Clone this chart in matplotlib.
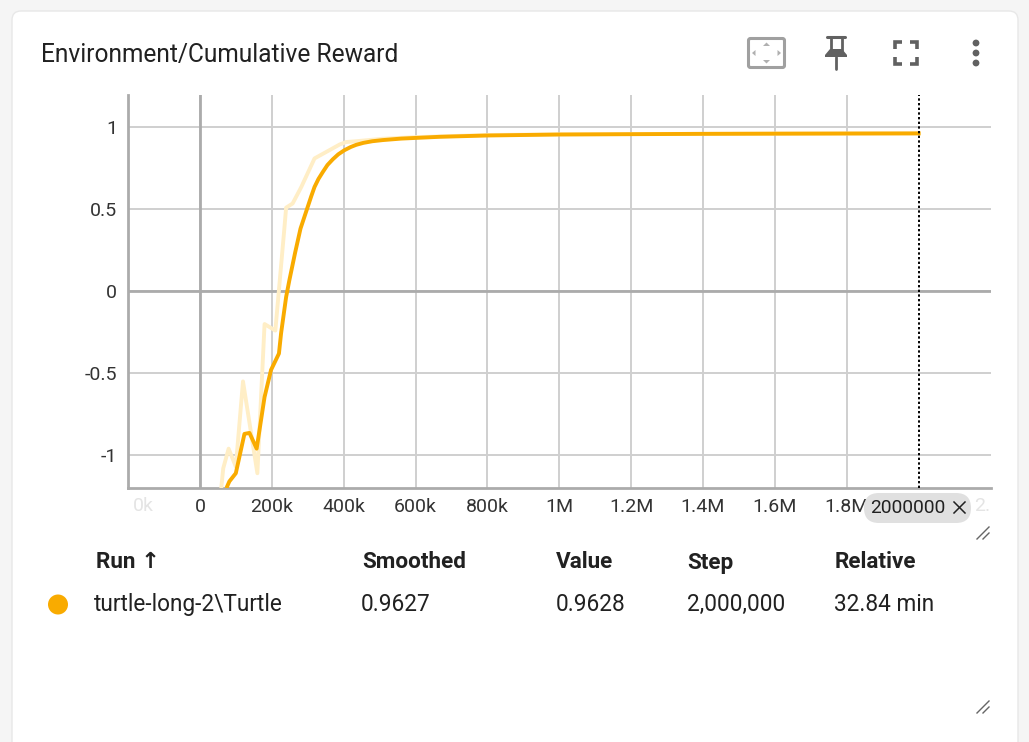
# TensorBoard scalar card: Environment/Cumulative Reward
import matplotlib
matplotlib.use('Agg')
import matplotlib.pyplot as plt
from matplotlib.patches import FancyBboxPatch, Circle, Polygon

plt.rcParams['font.family'] = ['Roboto', 'DejaVu Sans']

raw_steps = [60e3, 65e3, 80e3, 100e3, 120e3, 160e3, 180e3, 210e3, 235e3, 240e3, 258e3, 282e3,
             319e3, 389e3, 407e3, 435e3, 508e3, 600e3, 800e3, 1e6, 1.2e6, 1.4e6, 1.6e6, 1.8e6, 2e6]
raw_values = [-1.19, -1.08, -0.96, -1.07, -0.55, -1.11, -0.2, -0.24, 0.38, 0.51, 0.535, 0.635,
              0.81, 0.895, 0.91, 0.915, 0.93, 0.94, 0.953, 0.957, 0.959, 0.96, 0.962, 0.962, 0.9628]
smooth_steps = [76e3, 82e3, 100e3, 115e3, 124e3, 138e3, 158e3, 180e3, 198e3, 220e3, 226e3, 240e3,
                249e3, 265e3, 280e3, 300e3, 310e3, 319e3, 330e3, 342e3, 355e3, 370e3, 385e3, 402e3,
                420e3, 435e3, 455e3, 480e3, 509e3, 560e3, 667e3, 800e3, 1e6, 1.4e6, 1.8e6, 2e6]
smooth_values = [-1.19, -1.16, -1.11, -0.96, -0.87, -0.864, -0.96, -0.645, -0.48, -0.38, -0.256,
                 -0.035, 0.067, 0.235, 0.382, 0.514, 0.58, 0.636, 0.685, 0.727, 0.77, 0.805, 0.835,
                 0.86, 0.88, 0.893, 0.905, 0.915, 0.922, 0.931, 0.942, 0.95, 0.956, 0.96, 0.962, 0.9627]
x_ticks = [0, 200e3, 400e3, 600e3, 800e3, 1e6, 1.2e6, 1.4e6, 1.6e6, 1.8e6]
x_labels = ['0', '200k', '400k', '600k', '800k', '1M', '1.2M', '1.4M', '1.6M', '1.8M']
y_ticks = [-1, -0.5, 0, 0.5, 1]
y_labels = ['-1', '-0.5', '0', '0.5', '1']
table_headers = ['Run ↑', 'Smoothed', 'Value', 'Step', 'Relative']
table_row = ['turtle-long-2\\Turtle', '0.9627', '0.9628', '2,000,000', '32.84 min']

W, H = 1029, 742
ORANGE = '#f9ab00'
TEXT = '#212121'
ICON = '#616161'

fig = plt.figure(figsize=(W / 100, H / 100), dpi=100)
fig.patch.set_facecolor('#f5f5f5')

# full figure axes in pixels, for the card and everything around the chart
bg = fig.add_axes([0, 0, 1, 1])
bg.set_xlim(0, W)
bg.set_ylim(H, 0)
bg.axis('off')
bg.add_patch(FancyBboxPatch((12, 11), 1006, 760, boxstyle='round,pad=0,rounding_size=9',
                            facecolor='white', edgecolor='#e8e8e8', linewidth=1))
bg.text(41, 55, 'Environment/Cumulative Reward', fontsize=17.65, color=TEXT, va='center')

# fit-domain icon
bg.add_patch(FancyBboxPatch((748.5, 38.5), 36, 29, boxstyle='round,pad=0,rounding_size=2',
                            facecolor='white', edgecolor='#a0a0a0', linewidth=2.2))
for pts in ([(766.5, 42.5), (763, 46), (770, 46)], [(766.5, 63.5), (763, 60), (770, 60)],
            [(752, 53), (755.5, 50), (755.5, 56)], [(781, 53), (777.5, 50), (777.5, 56)]):
    bg.add_patch(Polygon(pts, facecolor='#b0b0b0', edgecolor='none'))

# pin icon
bg.plot([827, 845], [36.5, 36.5], color=ICON, lw=2.2, solid_capstyle='round')
bg.plot([830.5, 830.5], [37, 50], color=ICON, lw=2)
bg.plot([841.5, 841.5], [37, 50], color=ICON, lw=2)
bg.add_patch(Polygon([(830, 49), (842, 49), (847, 55), (847, 57), (825, 57), (825, 55)],
                     facecolor=ICON, edgecolor='none'))
bg.plot([836, 836], [57, 69], color=ICON, lw=2, solid_capstyle='round')

# fullscreen icon
for cx, cy, dx, dy in [(895, 42, 1, 1), (917, 42, -1, 1), (895, 64, 1, -1), (917, 64, -1, -1)]:
    bg.plot([cx, cx, cx + 7 * dx], [cy + 7 * dy, cy, cy], color=ICON, lw=2.6,
            solid_joinstyle='miter', solid_capstyle='butt')

# more menu
for cy in (43, 53, 63):
    bg.add_patch(Circle((976, cy), 3.4, facecolor=ICON, edgecolor='none'))

# chart
ax = fig.add_axes([128 / W, 1 - 488 / H, (990.5 - 128) / W, (488 - 94.5) / H])
ax.set_xlim(-200e3, 2.2e6)
ax.set_ylim(-1.2, 1.2)
ax.set_facecolor('none')
ax.set_xticks(x_ticks)
ax.set_xticklabels(x_labels)
ax.set_yticks(y_ticks)
ax.set_yticklabels(y_labels)
ax.tick_params(length=0, labelsize=14, labelcolor='#333333')
ax.tick_params(axis='x', pad=7)
ax.tick_params(axis='y', pad=8)
ax.grid(True, color='#cfcfcf', linewidth=1.4)
ax.set_axisbelow(True)
ax.axhline(0, color='#ababab', linewidth=2, zorder=1)
ax.axvline(0, color='#ababab', linewidth=2, zorder=1)
for side in ('top', 'right'):
    ax.spines[side].set_visible(False)
for side in ('left', 'bottom'):
    ax.spines[side].set_color('#ababab')
    ax.spines[side].set_linewidth(2)
ax.plot(raw_steps, raw_values, color='#ffeec6', linewidth=2.8, zorder=3)
ax.plot(smooth_steps, smooth_values, color=ORANGE, linewidth=2.8, zorder=4)
ax.axvline(2e6, color='black', linewidth=1.4, linestyle=(0, (1.2, 1.2)), zorder=5)

# faded, cut off labels at both ends of the x axis
bg.text(143, 506, '0k', fontsize=14, color='#e4e4e4', ha='center', va='center')
bg.text(982, 506, '2.', fontsize=14, color='#e4e4e4', ha='center', va='center')

# selected step chip, over the tick labels
chip = fig.add_axes([0, 0, 1, 1], zorder=5)
chip.set_xlim(0, W)
chip.set_ylim(H, 0)
chip.axis('off')
chip.add_patch(FancyBboxPatch((864, 493), 107, 30, boxstyle='round,pad=0,rounding_size=15',
                              facecolor='#e0e0e0', edgecolor='none'))
chip.text(870.5, 508, '2000000', fontsize=13.8, color=TEXT, va='center')
chip.plot([954, 965], [502, 513], color=TEXT, lw=1.1)
chip.plot([954, 965], [513, 502], color=TEXT, lw=1.1)

# table
header_x = [96, 362, 556, 687, 835]
row_x = [94, 361, 556, 687, 834]
for x, label in zip(header_x, table_headers):
    chip.text(x, 562.5, label, fontsize=16.2, fontweight='bold', color=TEXT, va='center')
for x, label in zip(row_x, table_row):
    chip.text(x, 604.5, label, fontsize=16.3, color=TEXT, va='center')
chip.add_patch(Circle((58, 604.5), 10, facecolor=ORANGE, edgecolor='none'))

# resize handles
for cy in (533, 707):
    chip.plot([977, 989], [cy + 6, cy - 6], color='#666666', lw=1)
    chip.plot([983, 989], [cy + 6, cy], color='#666666', lw=1)

fig.savefig('out.png', dpi=100, facecolor=fig.get_facecolor())
